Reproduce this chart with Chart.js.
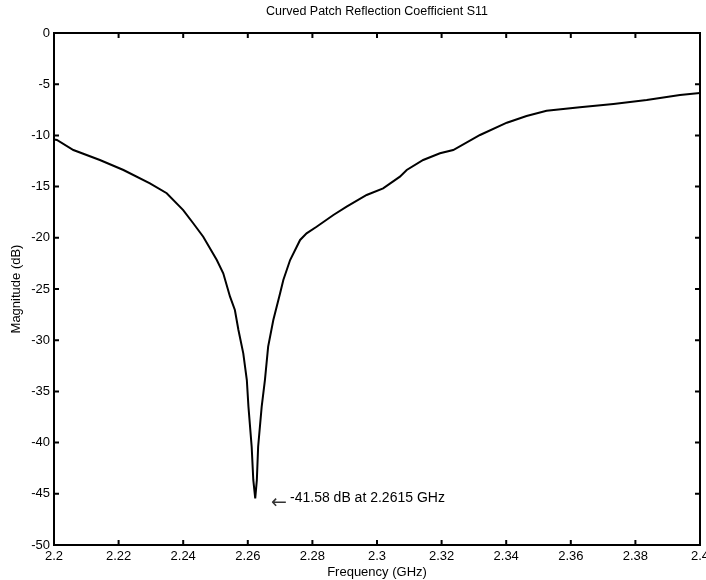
<!DOCTYPE html>
<html lang="en">
<head>
  <meta charset="UTF-8">
  <title>Curved Patch Reflection Coefficient S11</title>
  <script src="https://cdn.jsdelivr.net/npm/chart.js"></script>
  <style>
    body { margin: 0; background: #fff; }
    #wrap { width: 706px; height: 580px; }
  </style>
</head>
<body>
  <div id="wrap"><canvas id="s11Chart" width="706" height="580"></canvas></div>

  <script>
    // values
    const freqGHz = [
      2.2, 2.2009, 2.206, 2.2142, 2.2215, 2.2297, 2.2349, 2.24, 2.2431, 2.2462,
      2.2504, 2.2524, 2.2545, 2.256, 2.2571, 2.2586, 2.2597, 2.2602, 2.2612, 2.2617,
      2.2623, 2.2628, 2.2632, 2.2643, 2.2653, 2.2663, 2.2679, 2.27, 2.271, 2.2731,
      2.2762, 2.2782, 2.2813, 2.2865, 2.2906, 2.2968, 2.3019, 2.3071, 2.3092, 2.3143,
      2.3195, 2.3236, 2.3319, 2.3402, 2.3463, 2.3525, 2.3628, 2.3732, 2.3835, 2.3938, 2.4
    ];
    const magnitudeDb = [
      -10.4, -10.45, -11.43, -12.4, -13.38, -14.68, -15.65, -17.29, -18.58, -19.9,
      -22.17, -23.47, -25.75, -27.05, -29.0, -31.28, -33.89, -36.49, -40.4, -43.65,
      -45.44, -43.65, -40.4, -36.49, -33.89, -30.63, -28.03, -25.42, -24.12, -22.17,
      -20.21, -19.56, -18.92, -17.77, -16.96, -15.82, -15.17, -14.03, -13.38, -12.4,
      -11.75, -11.43, -9.96, -8.76, -8.11, -7.59, -7.26, -6.93, -6.54, -6.05, -5.86
    ];
    const xTicks = [2.2, 2.22, 2.24, 2.26, 2.28, 2.3, 2.32, 2.34, 2.36, 2.38, 2.4];
    const yTicks = [0, -5, -10, -15, -20, -25, -30, -35, -40, -45, -50];
    const chartTitle = 'Curved Patch Reflection Coefficient S11';
    const markerText = '-41.58 dB at 2.2615 GHz';
    const markerAt = [2.2675, -45.4];

    const FONT = 'Arial, "Liberation Sans", Helvetica, sans-serif';

    // MATLAB-like box with inward ticks, title and marker text
    const matlabAxes = {
      id: 'matlabAxes',
      afterDraw(chart) {
        const { ctx, chartArea: a, scales } = chart;
        const x = scales.x, y = scales.y;
        const len = 5;
        ctx.save();
        ctx.strokeStyle = '#000';
        ctx.lineWidth = 2;
        ctx.strokeRect(a.left, a.top, a.right - a.left, a.bottom - a.top);
        ctx.beginPath();
        xTicks.forEach(v => {
          const px = x.getPixelForValue(v);
          ctx.moveTo(px, a.bottom); ctx.lineTo(px, a.bottom - len);
          ctx.moveTo(px, a.top); ctx.lineTo(px, a.top + len);
        });
        yTicks.forEach(v => {
          const py = y.getPixelForValue(v);
          ctx.moveTo(a.left, py); ctx.lineTo(a.left + len, py);
          ctx.moveTo(a.right, py); ctx.lineTo(a.right - len, py);
        });
        ctx.stroke();

        ctx.fillStyle = '#000';
        ctx.font = '12.5px ' + FONT;
        ctx.textAlign = 'center';
        ctx.textBaseline = 'middle';
        ctx.fillText(chartTitle, (a.left + a.right) / 2, 12);

        const mx = x.getPixelForValue(markerAt[0]);
        const my = y.getPixelForValue(markerAt[1]);
        ctx.textAlign = 'left';
        ctx.font = '19px "DejaVu Sans", sans-serif';
        ctx.fillStyle = '#333';
        ctx.fillText('\u2190', mx - 1, my + 5);
        ctx.font = '14px ' + FONT;
        ctx.fillStyle = '#000';
        ctx.fillText(markerText, mx + 18, my);
        ctx.restore();
      }
    };

    const ctx = document.getElementById('s11Chart').getContext('2d');
    new Chart(ctx, {
      type: 'line',
      data: {
        datasets: [{
          data: freqGHz.map((f, i) => ({ x: f, y: magnitudeDb[i] })),
          borderColor: '#000',
          borderWidth: 2,
          pointRadius: 0,
          tension: 0
        }]
      },
      options: {
        responsive: false,
        animation: false,
        layout: { padding: { top: 33, right: 6, left: 0, bottom: 0 } },
        plugins: { legend: { display: false }, tooltip: { enabled: false } },
        scales: {
          x: {
            type: 'linear',
            min: 2.2,
            max: 2.4,
            afterBuildTicks: s => { s.ticks = xTicks.map(v => ({ value: v })); },
            afterFit: s => { s.height = 35; s.paddingLeft = 0; s.paddingRight = 0; },
            grid: { display: false, drawTicks: false },
            border: { display: false },
            ticks: {
              color: '#000',
              font: { size: 13, family: FONT },
              padding: 4,
              maxRotation: 0,
              autoSkip: false,
              callback: v => String(Math.round(v * 100) / 100)
            },
            title: {
              display: true,
              text: 'Frequency (GHz)',
              color: '#000',
              font: { size: 13, family: FONT },
              padding: 0
            }
          },
          y: {
            type: 'linear',
            min: -50,
            max: 0,
            afterBuildTicks: s => { s.ticks = yTicks.map(v => ({ value: v })); },
            afterFit: s => { s.width = 54; },
            grid: { display: false, drawTicks: false },
            border: { display: false },
            ticks: {
              color: '#000',
              font: { size: 13, family: FONT },
              padding: 4,
              callback: v => String(v)
            },
            title: {
              display: true,
              text: 'Magnitude (dB)',
              color: '#000',
              font: { size: 13, family: FONT },
              padding: { top: 9, bottom: 0 }
            }
          }
        }
      },
      plugins: [matlabAxes]
    });
  </script>
</body>
</html>
